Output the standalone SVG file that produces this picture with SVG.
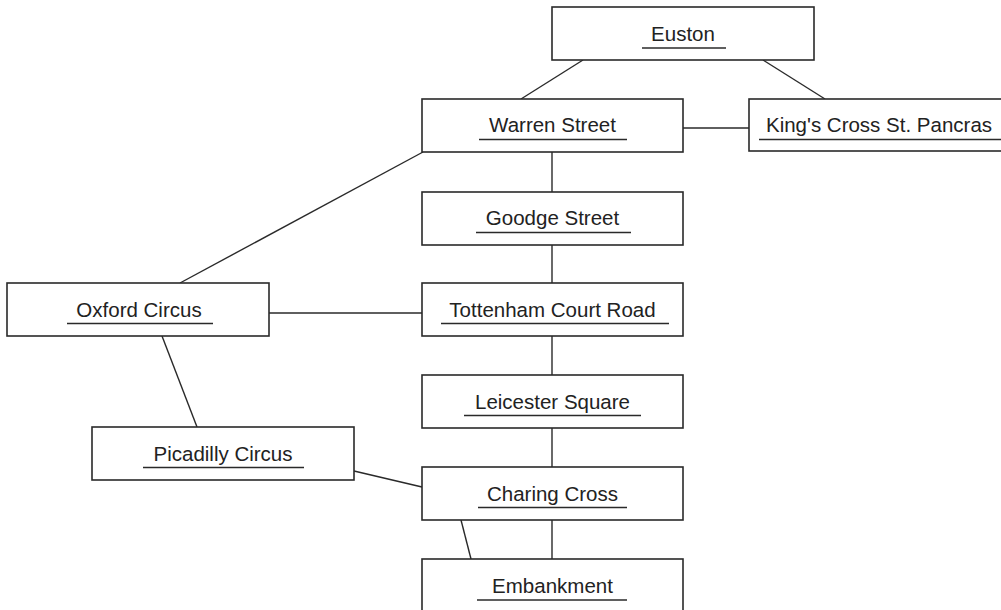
<svg xmlns="http://www.w3.org/2000/svg" width="1001" height="610" viewBox="0 0 1001 610">
<style>
.box{fill:#fff;stroke:#2a2a2a;stroke-width:1.6}
.lbl{font-family:"Liberation Sans",Arial,sans-serif;font-size:20.5px;fill:#222;text-anchor:middle}
.ul{stroke:#2a2a2a;stroke-width:1.6}
.conn line{stroke:#2a2a2a;stroke-width:1.4}
</style>
<rect width="1001" height="610" fill="#fff"/>
<g class="conn" id="connectors">
<line x1="583" y1="60" x2="521" y2="99"/>
<line x1="763" y1="60" x2="825" y2="99"/>
<line x1="683" y1="128" x2="749" y2="128"/>
<line x1="552" y1="152" x2="552" y2="192"/>
<line x1="423" y1="152" x2="180" y2="283"/>
<line x1="552" y1="245" x2="552" y2="283"/>
<line x1="269" y1="313" x2="422" y2="313"/>
<line x1="162" y1="336" x2="197" y2="427"/>
<line x1="552" y1="336" x2="552" y2="375"/>
<line x1="552" y1="428" x2="552" y2="467"/>
<line x1="354" y1="471" x2="422" y2="487"/>
<line x1="552" y1="520" x2="552" y2="559"/>
<line x1="461" y1="520" x2="471" y2="559"/>
</g>
<g id="euston">
<rect class="box" x="552" y="7" width="262" height="53"/>
<text class="lbl" x="683" y="41">Euston</text>
<line class="ul" x1="642" y1="48" x2="726" y2="48"/>
</g>
<g id="warren">
<rect class="box" x="422" y="99" width="261" height="53"/>
<text class="lbl" x="552.5" y="132">Warren Street</text>
<line class="ul" x1="479" y1="139.5" x2="627" y2="139.5"/>
</g>
<g id="kingscross">
<rect class="box" x="749" y="99" width="261" height="52"/>
<text class="lbl" x="879" y="132">King's Cross St. Pancras</text>
<line class="ul" x1="759" y1="139.5" x2="1001" y2="139.5"/>
</g>
<g id="goodge">
<rect class="box" x="422" y="192" width="261" height="53"/>
<text class="lbl" x="552.5" y="225">Goodge Street</text>
<line class="ul" x1="476" y1="232.5" x2="631" y2="232.5"/>
</g>
<g id="oxford">
<rect class="box" x="7" y="283" width="262" height="53"/>
<text class="lbl" x="139" y="317">Oxford Circus</text>
<line class="ul" x1="67" y1="323.5" x2="213" y2="323.5"/>
</g>
<g id="tottenham">
<rect class="box" x="422" y="283" width="261" height="53"/>
<text class="lbl" x="552.5" y="317">Tottenham Court Road</text>
<line class="ul" x1="441" y1="323.5" x2="669" y2="323.5"/>
</g>
<g id="leicester">
<rect class="box" x="422" y="375" width="261" height="53"/>
<text class="lbl" x="552.5" y="409">Leicester Square</text>
<line class="ul" x1="464" y1="415.5" x2="641" y2="415.5"/>
</g>
<g id="picadilly">
<rect class="box" x="92" y="427" width="262" height="53"/>
<text class="lbl" x="223" y="461">Picadilly Circus</text>
<line class="ul" x1="143" y1="467.5" x2="304" y2="467.5"/>
</g>
<g id="charing">
<rect class="box" x="422" y="467" width="261" height="53"/>
<text class="lbl" x="552.5" y="501">Charing Cross</text>
<line class="ul" x1="478" y1="507.5" x2="627" y2="507.5"/>
</g>
<g id="embankment">
<rect class="box" x="422" y="559" width="261" height="60"/>
<text class="lbl" x="552.5" y="593">Embankment</text>
<line class="ul" x1="477" y1="600" x2="627" y2="600"/>
</g>
</svg>
